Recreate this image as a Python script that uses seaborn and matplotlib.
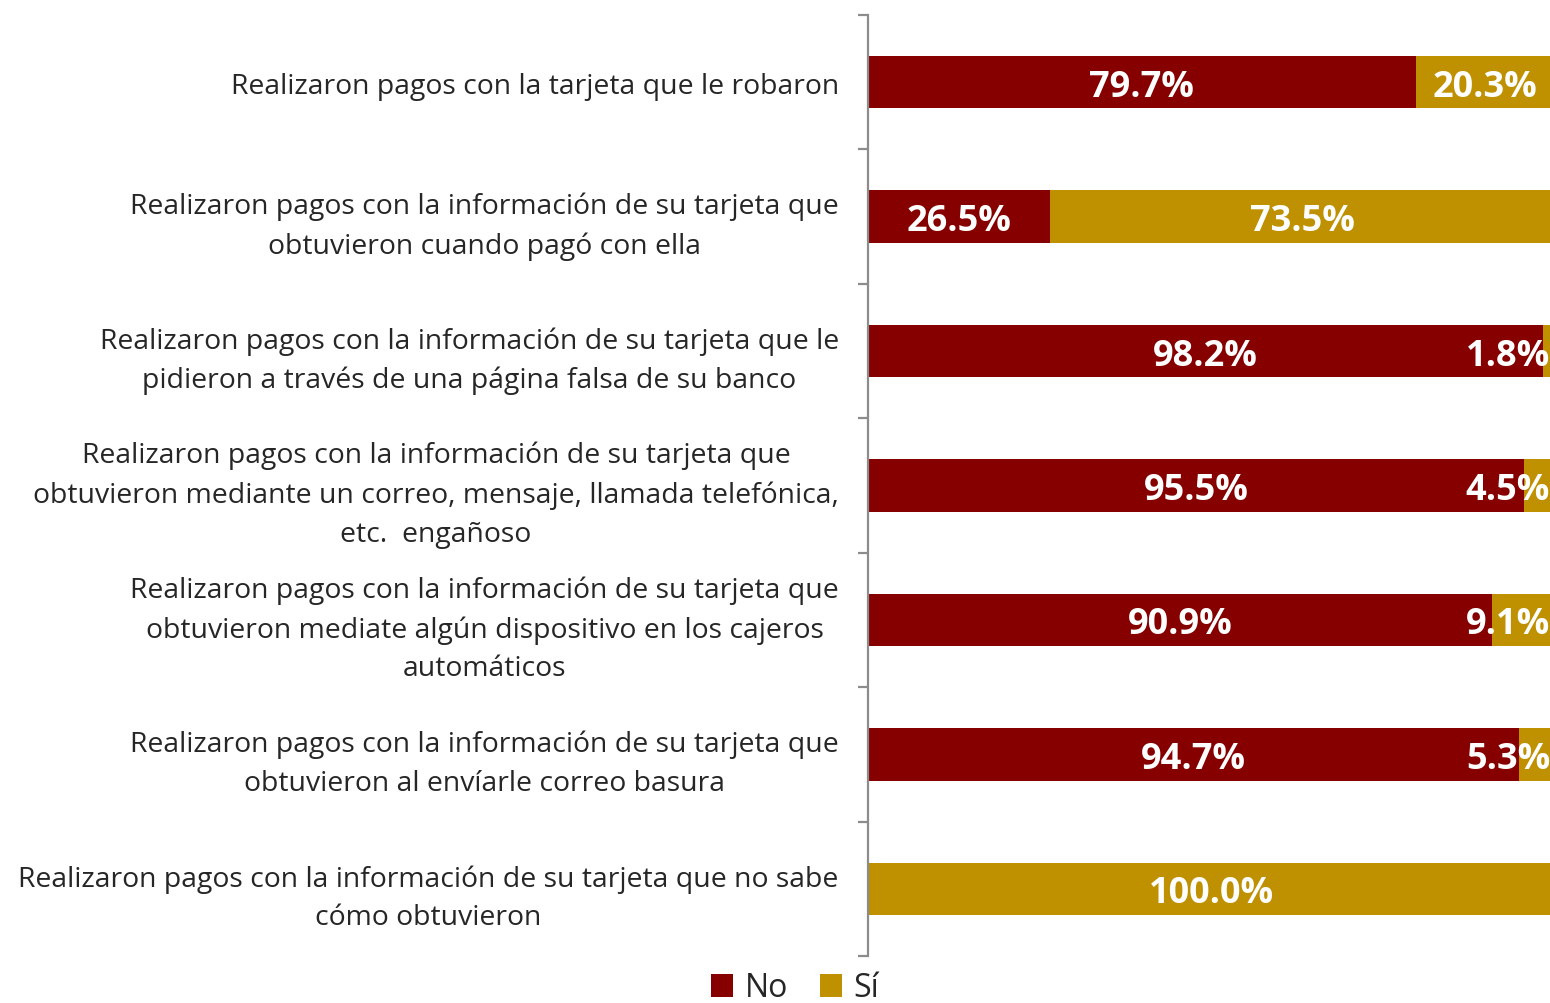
import matplotlib
matplotlib.use("Agg")
import matplotlib.pyplot as plt
from matplotlib.patches import Patch
from matplotlib.ticker import FixedLocator
import seaborn as sns
import pandas as pd

categories = [
    "Realizaron pagos con la tarjeta que le robaron",
    "Realizaron pagos con la información de su tarjeta que\nobtuvieron cuando pagó con ella",
    "Realizaron pagos con la información de su tarjeta que le\npidieron a través de una página falsa de su banco",
    "Realizaron pagos con la información de su tarjeta que\nobtuvieron mediante un correo, mensaje, llamada telefónica,\netc.  engañoso",
    "Realizaron pagos con la información de su tarjeta que\nobtuvieron mediate algún dispositivo en los cajeros\nautomáticos",
    "Realizaron pagos con la información de su tarjeta que\nobtuvieron al envíarle correo basura",
    "Realizaron pagos con la información de su tarjeta que no sabe\ncómo obtuvieron",
]
no_vals = [79.7, 26.5, 98.2, 95.5, 90.9, 94.7, 0.0]
si_vals = [20.3, 73.5, 1.8, 4.5, 9.1, 5.3, 100.0]
series_names = ["No", "Sí"]

C_NO = "#860000"
C_SI = "#BF9000"
TXT = "#262626"
GRID = "#8C8C8C"

sns.set_theme(style="white")
plt.rcParams["font.family"] = ["Open Sans", "DejaVu Sans"]

df = pd.DataFrame({"cat": categories, "No": no_vals, "Si": si_vals})
df["total"] = df["No"] + df["Si"]

fig = plt.figure(figsize=(15.5, 10.04), dpi=100)
ax = fig.add_axes([868 / 1550, 1 - 957 / 1004, (1555 - 868) / 1550, (957 - 16) / 1004])

sns.barplot(data=df, y="cat", x="total", color=C_SI, orient="h", width=0.39,
            ax=ax, saturation=1, edgecolor="none")
sns.barplot(data=df, y="cat", x="No", color=C_NO, orient="h", width=0.39,
            ax=ax, saturation=1, edgecolor="none")

n = len(categories)
ax.set_xlim(0, 100)
ax.set_ylim(n - 0.5, -0.5)
ax.set_xlabel("")
ax.set_ylabel("")
ax.set_xticks([])

for s in ["top", "right", "bottom"]:
    ax.spines[s].set_visible(False)
ax.spines["left"].set_color(GRID)
ax.spines["left"].set_linewidth(1.6)

ax.set_yticks(range(n))
ax.set_yticklabels(categories, fontsize=20.4, color=TXT)
for t in ax.get_yticklabels():
    t.set_multialignment("center")
    t.set_linespacing(1.52)
ax.tick_params(axis="y", which="major", length=0, pad=21)
ax.yaxis.set_minor_locator(FixedLocator([i - 0.5 for i in range(n + 1)]))
ax.tick_params(axis="y", which="minor", length=7, width=1.6, color=GRID, left=True)

lab_kw = dict(va="center_baseline", color="white", fontsize=26, fontweight="bold")
for i in range(n):
    nv, sv = no_vals[i], si_vals[i]
    if nv > 0:
        ax.text(nv / 2, i, f"{nv:.1f}%", ha="center", **lab_kw)
    if sv > 0:
        if sv < 12:
            ax.text(99.3, i, f"{sv:.1f}%", ha="right", clip_on=False, **lab_kw)
        else:
            ax.text(nv + sv / 2, i, f"{sv:.1f}%", ha="center", **lab_kw)

handles = [Patch(facecolor=C_NO, edgecolor="none"), Patch(facecolor=C_SI, edgecolor="none")]
fig.legend(handles, series_names, loc="center", bbox_to_anchor=(795 / 1550, 1 - 989 / 1004),
           ncol=2, frameon=False, fontsize=23, handlelength=0.7, handleheight=0.7,
           handletextpad=0.35, columnspacing=1.0, labelcolor=TXT)

fig.savefig("out.png", dpi=100, facecolor="white")
